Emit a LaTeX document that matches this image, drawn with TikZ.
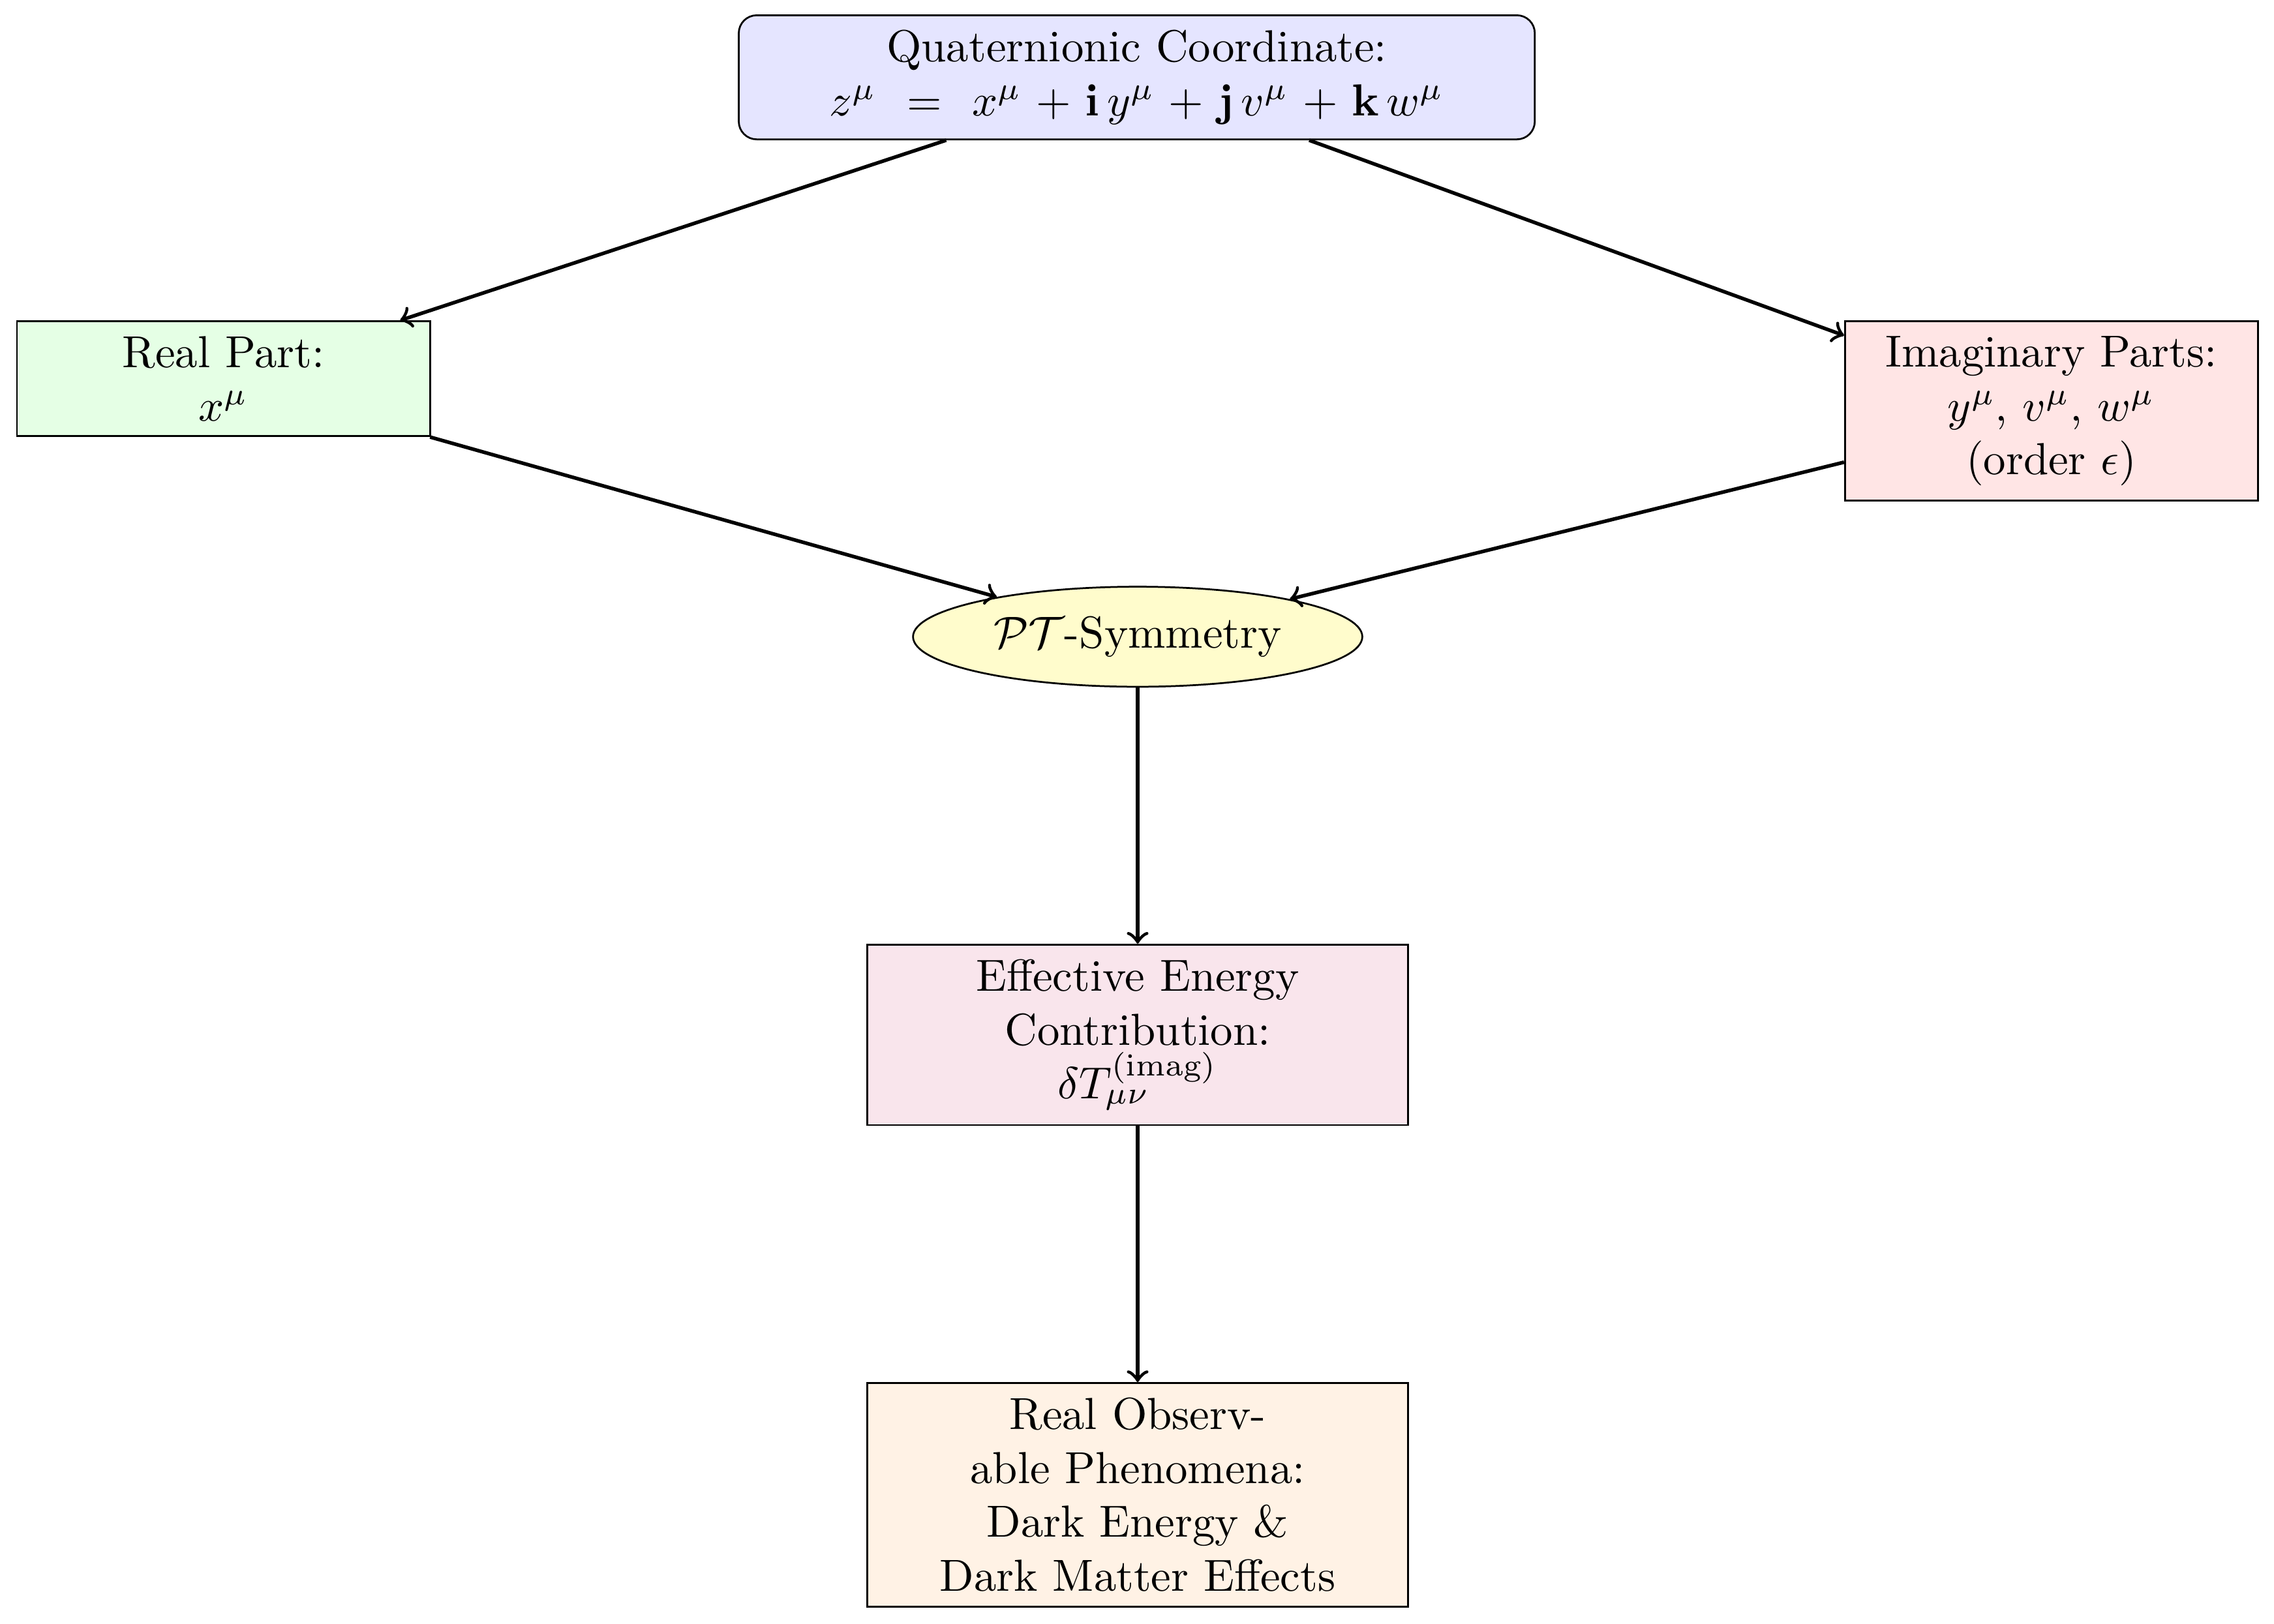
\documentclass[tikz,border=0pt]{standalone}
\usetikzlibrary{shapes.geometric}
\begin{document}
\begin{tikzpicture}[x=1pt,y=1pt,
  boxbase/.style={draw, align=center, anchor=north, inner sep=3.33pt},
  topbox/.style={boxbase, rounded corners, fill=blue!10, text width=6cm},
  realbox/.style={boxbase, fill=green!10, text width=3cm},
  imagbox/.style={boxbase, fill=red!10, text width=3cm},
  ptell/.style={draw, ellipse, fill=yellow!20},
  effbox/.style={boxbase, fill=purple!10, text width=4cm},
  obsbox/.style={boxbase, fill=orange!10, text width=4cm},
  flow/.style={->, thick}]
\useasboundingbox (0,0) rectangle (506.7,-361.8);
\node[topbox] (quat) at (253.3,-3.2) {Quaternionic Coordinate:\\ $z^\mu \,=\, x^\mu + \mathbf{i}\,y^\mu + \mathbf{j}\,v^\mu + \mathbf{k}\,w^\mu$};
\node[realbox] (real) at (49.8,-71.4) {Real Part:\\ $x^\mu$};
\node[imagbox] (imag) at (457.1,-71.4) {Imaginary Parts:\\ $y^\mu$, $v^\mu$, $w^\mu$\\ (order $\epsilon$)};
\node[ptell] (pt) at (253.5,-141.9) {$\mathcal{PT}$-Symmetry};
\node[effbox] (eff) at (253.5,-210.3) {Effective Energy\\ Contribution:\\ $\delta T_{\mu\nu}^{\mathrm{(imag)}}$};
\node[obsbox] (obs) at (253.5,-308.0) {Real Observ-\\able Phenomena:\\ Dark Energy \&\\ Dark Matter Effects};
\draw[flow] (quat) -- (real);
\draw[flow] (quat) -- (imag);
\draw[flow] (real) -- (pt);
\draw[flow] (imag) -- (pt);
\draw[flow] (pt) -- (eff);
\draw[flow] (eff) -- (obs);
\end{tikzpicture}
\end{document}
